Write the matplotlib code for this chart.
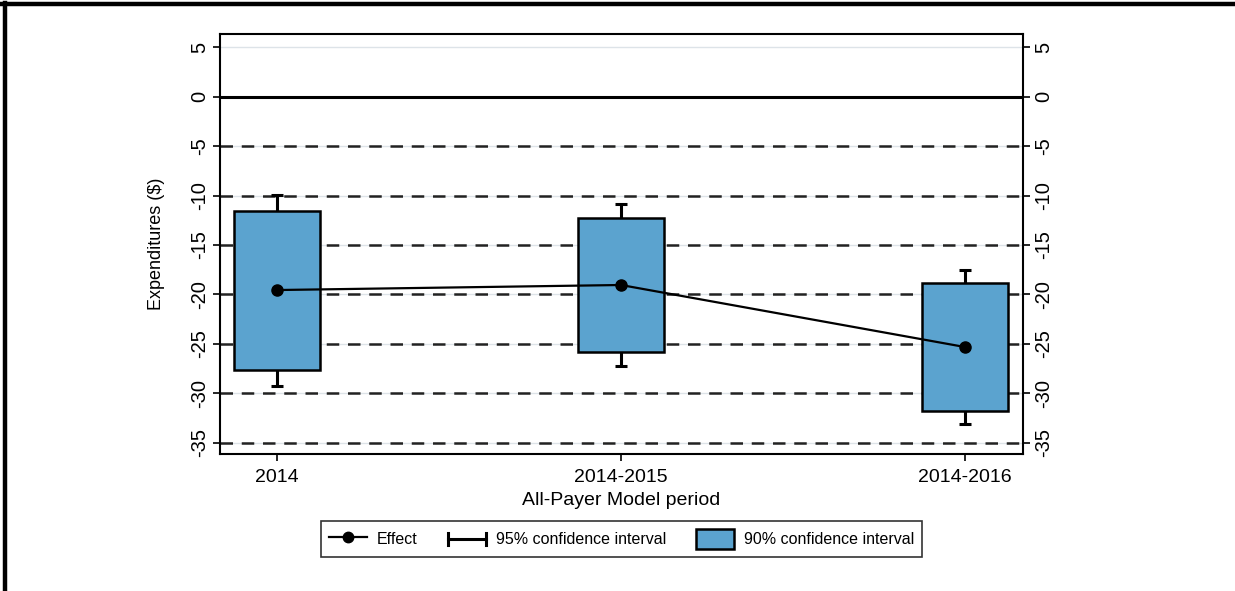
import matplotlib
matplotlib.use("Agg")
import matplotlib.pyplot as plt
from matplotlib.lines import Line2D
from matplotlib.patches import Patch
from matplotlib.legend_handler import HandlerBase

plt.rcParams['font.family'] = ['Liberation Sans', 'DejaVu Sans']

# Estimates by period (dollars)
periods = ['2014', '2014-2015', '2014-2016']
effect = [-19.55, -19.04, -25.31]
ci90_lo = [-27.64, -25.84, -31.78]
ci90_hi = [-11.56, -12.23, -18.87]
ci95_lo = [-29.25, -27.20, -33.09]
ci95_hi = [-9.91, -10.88, -17.52]
yticks = [5, 0, -5, -10, -15, -20, -25, -30, -35]

box_color = '#5ba3cf'
x = [1, 2, 3]


class HandlerCapBar(HandlerBase):
    # horizontal bar with end caps for the 95% CI legend entry
    def create_artists(self, legend, orig_handle, xdescent, ydescent,
                       width, height, fontsize, trans):
        y = height / 2 - ydescent
        x0, x1 = -xdescent, width - xdescent
        arts = [Line2D([x0, x1], [y, y], color='black', lw=2.2),
                Line2D([x0, x0], [y - 4, y + 4], color='black', lw=2.2),
                Line2D([x1, x1], [y - 4, y + 4], color='black', lw=2.2)]
        for a in arts:
            a.set_transform(trans)
        return arts


fig = plt.figure(figsize=(12.35, 5.91), dpi=100)
ax = fig.add_axes([0.1781, 0.2318, 0.6502, 0.7115])

# light reference grid plus dashed lines
for t in yticks:
    ax.axhline(t, color='#dde3e8', lw=1.0, zorder=0)
for t in yticks[2:]:
    ax.axhline(t, color='#222222', lw=1.8, ls=(0, (5, 3.5)), zorder=1)
ax.axhline(0, color='black', lw=2.2, zorder=1)

# 95% CI whiskers
err_lo = [e - l for e, l in zip(effect, ci95_lo)]
err_hi = [h - e for e, h in zip(effect, ci95_hi)]
ax.errorbar(x, effect, yerr=[err_lo, err_hi], fmt='none', ecolor='black',
            elinewidth=2.2, capsize=4, capthick=2.2, zorder=2)

# 90% CI boxes
heights = [h - l for l, h in zip(ci90_lo, ci90_hi)]
ax.bar(x, heights, bottom=ci90_lo, width=0.25, color=box_color,
       edgecolor='black', linewidth=1.8, zorder=3)

# point estimates
ax.plot(x, effect, color='black', lw=1.6, marker='o', markersize=8, zorder=4)

ax.set_xlim(0.834, 3.169)
ax.set_ylim(-36.13, 6.39)
ax.set_xticks(x)
ax.set_xticklabels(periods)
ax.set_yticks(yticks)
ax.set_yticklabels([str(t) for t in yticks])
ax.tick_params(axis='y', which='both', left=True, right=True,
               labelleft=True, labelright=True, length=5, width=1.2, pad=3,
               labelsize=14.5, labelrotation=90)
ax.tick_params(axis='x', length=5, width=1.2, pad=6, labelsize=14)
for t in ax.yaxis.get_major_ticks():
    t.label1.set_va('center')
    t.label2.set_va('center')
for side in ax.spines.values():
    side.set_linewidth(1.5)

ax.set_ylabel('Expenditures ($)', fontsize=13, labelpad=18)
ax.set_xlabel('All-Payer Model period', fontsize=14, labelpad=4)

handles = [
    Line2D([], [], color='black', lw=1.6, marker='o', markersize=7.5),
    Line2D([], [], color='black'),
    Patch(facecolor=box_color, edgecolor='black', linewidth=1.8),
]
labels = ['Effect', '95% confidence interval', '90% confidence interval']
leg = fig.legend(handles, labels, loc='center', bbox_to_anchor=(0.5032, 0.0880),
                 ncol=3, fontsize=11.5, frameon=True, fancybox=False,
                 edgecolor='black', handlelength=2.4, handleheight=1.5,
                 columnspacing=1.9, handletextpad=0.6, borderpad=0.5,
                 borderaxespad=0, handler_map={handles[1]: HandlerCapBar()})
leg.get_frame().set_linewidth(1.2)

# outer border on the top and left edges
fig.add_artist(Line2D([0, 1], [0.993, 0.993], color='black', lw=3.2,
                      transform=fig.transFigure))
fig.add_artist(Line2D([0.0041, 0.0041], [0, 0.995], color='black', lw=3.2,
                      transform=fig.transFigure))

fig.savefig('out.png', dpi=100)
